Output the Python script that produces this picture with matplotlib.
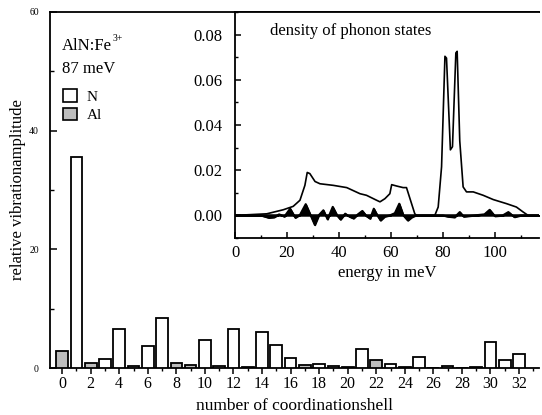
import matplotlib
matplotlib.use("Agg")
import matplotlib.pyplot as plt
from matplotlib.ticker import MultipleLocator, FormatStrFormatter
from matplotlib.patches import Patch

plt.rcParams['font.family'] = ['Liberation Serif', 'DejaVu Serif']

# ---- main bar chart data ----
shells = list(range(33))
amplitude = [2.9, 35.5, 0.8, 1.5, 6.6, 0.3, 3.7, 8.5, 0.8, 0.5,
             4.7, 0.4, 6.6, 0.2, 6.0, 3.9, 1.7, 0.45, 0.67, 0.3,
             0.1, 3.2, 1.3, 0.7, 0.2, 1.8, 0.05, 0.35, 0.05, 0.25,
             4.3, 1.4, 2.4]
atom = ['Al', 'N', 'Al', 'N', 'N', 'Al', 'N', 'N', 'Al', 'Al',
        'N', 'Al', 'N', 'Al', 'N', 'N', 'N', 'Al', 'N', 'Al',
        'Al', 'N', 'Al', 'N', 'Al', 'N', 'Al', 'Al', 'Al', 'Al',
        'N', 'N', 'N']
xtick_labels = [str(v) for v in range(0, 33, 2)]

# ---- inset: density of phonon states ----
dos_e = [0, 12.2, 18.6, 22.4, 25.0, 26.9, 27.8, 28.8, 30.8, 32.7, 37.8, 43.0,
         48.1, 50.6, 54.5, 55.8, 57.7, 59.6, 60.3, 62.2, 64.7, 66.0, 69.2, 69.9,
         76.9, 78.2, 79.5, 80.8, 81.4, 82.9, 83.7, 85.0, 85.5, 86.5, 87.8, 89.1,
         91.7, 95.5, 99.4, 104.5, 108.3, 110.9, 112.8, 117]
dos_v = [0, 0.0007, 0.0025, 0.004, 0.0067, 0.0133, 0.019, 0.0185, 0.015, 0.014,
         0.0133, 0.0123, 0.0096, 0.0089, 0.0067, 0.006, 0.0074, 0.0096, 0.0136,
         0.013, 0.0123, 0.0123, 0.0007, 0, 0, 0.0037, 0.0215, 0.0704, 0.0696,
         0.029, 0.0304, 0.0719, 0.0726, 0.033, 0.0126, 0.0104, 0.0104, 0.0089,
         0.007, 0.0052, 0.0037, 0.0015, 0, 0]

osc_e = [0, 10, 13, 15, 17, 19, 21.2, 23.2, 25, 27.2, 29, 30.7, 32.3, 34, 35.6,
         37.6, 39.3, 40.6, 42.4, 44, 45.6, 47.3, 49, 50.6, 52, 53.4, 54.8, 56,
         57.6, 59.5, 61.5, 63.2, 64.8, 66.5, 68, 69.5, 80, 82, 84.5, 86.5, 88,
         92, 96, 98, 100, 103, 105.2, 107.5, 110, 117]
osc_a = [0, 0, -0.001, -0.0008, 0.0005, -0.0005, 0.003, -0.001, 0.0003, 0.005,
         0.0003, -0.0042, 0.0002, 0.0023, -0.0017, 0.0038, 0, -0.0018, 0.0008,
         -0.0005, -0.0013, 0.0005, 0.002, -0.0003, -0.0014, 0.003, 0, -0.0022,
         -0.0005, 0, 0.001, 0.0052, 0, -0.0022, -0.0008, 0, 0, -0.0005, -0.0008,
         0.0015, -0.0005, 0, 0.0005, 0.0025, -0.0003, 0, 0.0015, -0.0007, 0, 0]

W, H = 542, 415
fig = plt.figure(figsize=(W / 100, H / 100), dpi=100)

L, R, T, B = 50, 539, 12, 368
ax = fig.add_axes([L / W, 1 - B / H, (R - L) / W, (B - T) / H])
colors = ['#bdbdbd' if a == 'Al' else 'white' for a in atom]
ax.bar(shells, amplitude, width=0.82, color=colors, edgecolor='black',
       linewidth=1.3, zorder=3)
ax.set_xlim(-0.85, 33.4)
ax.set_ylim(0, 60)
ax.set_xticks(range(0, 33, 2))
ax.set_xticklabels(xtick_labels, fontsize=11.5)
ax.xaxis.set_minor_locator(MultipleLocator(1))
ax.tick_params(axis='x', which='major', direction='out', length=4, width=1.1, pad=2)
ax.tick_params(axis='x', which='minor', direction='out', length=2.5, width=1.0)
ax.set_yticks([0, 20, 40, 60])
ax.yaxis.set_minor_locator(MultipleLocator(10))
ax.tick_params(axis='y', which='major', direction='in', length=5, width=1.1,
               labelsize=7, pad=8)
ax.tick_params(axis='y', which='minor', direction='in', length=3, width=1.0)
for s in ['left', 'bottom', 'top']:
    ax.spines[s].set_linewidth(1.3)
ax.spines['right'].set_visible(False)
ax.set_xlabel('number of coordinationshell', fontsize=12.5, labelpad=4)
ax.set_ylabel('relative vibrationamplitude', fontsize=12, labelpad=2)

ax.text(0.025, 0.905, 'AlN:Fe', transform=ax.transAxes, fontsize=12,
        ha='left', va='center')
ax.text(0.127, 0.925, '3+', transform=ax.transAxes, fontsize=7,
        ha='left', va='center')
ax.text(0.025, 0.84, '87 meV', transform=ax.transAxes, fontsize=12,
        ha='left', va='center')
handles = [Patch(facecolor='white', edgecolor='black', linewidth=1.2, label='N'),
           Patch(facecolor='#bdbdbd', edgecolor='black', linewidth=1.2, label='Al')]
ax.legend(handles=handles, loc='upper left', bbox_to_anchor=(0.015, 0.80),
          frameon=False, fontsize=11, handlelength=0.9, handleheight=0.9,
          handletextpad=0.6, labelspacing=0.25, borderaxespad=0)

# inset
iL, iR, iT, iB = 235, 539, 12, 238
ax2 = fig.add_axes([iL / W, 1 - iB / H, (iR - iL) / W, (iB - iT) / H])
ax2.plot(dos_e, dos_v, color='black', linewidth=1.2, zorder=3)
ax2.fill_between(osc_e, osc_a, 0, color='black', linewidth=1.2, zorder=4)
ax2.plot(osc_e, osc_a, color='black', linewidth=1.4, zorder=4)
ax2.axhline(0, color='black', linewidth=1.1, zorder=2)
ax2.set_xlim(0, 117)
ax2.set_ylim(-0.01, 0.09)
ax2.set_xticks([0, 20, 40, 60, 80, 100])
ax2.xaxis.set_minor_locator(MultipleLocator(10))
ax2.set_yticks([0.0, 0.02, 0.04, 0.06, 0.08])
ax2.yaxis.set_major_formatter(FormatStrFormatter('%.2f'))
ax2.yaxis.set_minor_locator(MultipleLocator(0.01))
ax2.tick_params(which='major', direction='in', length=4, width=1.1, labelsize=12)
ax2.tick_params(which='minor', direction='in', length=2.5, width=1.0)
ax2.tick_params(axis='x', pad=5)
ax2.tick_params(axis='y', pad=9)
for s in ['left', 'bottom', 'top']:
    ax2.spines[s].set_linewidth(1.3)
ax2.spines['right'].set_visible(False)
ax2.set_xlabel('energy in meV', fontsize=12, labelpad=3)
ax2.text(13.5, 0.0816, 'density of phonon states', fontsize=12,
         ha='left', va='center')

fig.savefig('out.png', dpi=100)
